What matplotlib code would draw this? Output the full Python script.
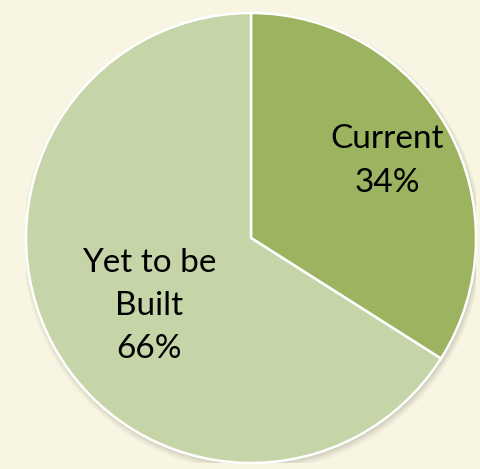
import matplotlib.pyplot as plt
import matplotlib.patches as mpatches
import numpy as np

labels = ["Current", "Yet to be\nBuilt"]
shares = [34, 66]
colors = ["#9CB35F", "#C5D5A8"]
label_dist = [0.695, 0.545]
label_turn = [0.7, 4.9]  # degrees away from the slice middle

fig = plt.figure(figsize=(4.81, 4.69), dpi=100)
fig.patch.set_facecolor("#F8F5E2")

# pie centre at ~(251, 238) px, radius ~225 px
ax = fig.add_axes([(251 - 225) / 481, (469 - 238 - 225) / 469, 450 / 481, 450 / 469])
ax.set_xlim(-1, 1)
ax.set_ylim(-1, 1)
ax.axis("off")

# soft shadow under the pie
for i, a in enumerate([0.06, 0.08, 0.10, 0.14]):
    ax.add_patch(mpatches.Circle((0.006, -0.016 + i * 0.003), 1.0 + (3 - i) * 0.007,
                                 color="#7a7660", alpha=a, lw=0, zorder=0))

wedges, _ = ax.pie(shares, colors=colors, startangle=90, counterclock=False,
                   radius=1.0, wedgeprops=dict(edgecolor="white", linewidth=1.8),
                   frame=False)
ax.set_xlim(-1, 1)
ax.set_ylim(-1, 1)
ax.set_aspect("auto")

for w, lab, s, d, t in zip(wedges, labels, shares, label_dist, label_turn):
    mid = np.deg2rad((w.theta1 + w.theta2) / 2 + t)
    x, y = d * np.cos(mid), d * np.sin(mid)
    ax.text(x, y, "%s\n%d%%" % (lab, s), ha="center", va="center",
            fontsize=24, family="Lato", color="black", linespacing=1.55)

fig.savefig("out.png", dpi=100, facecolor=fig.get_facecolor())
